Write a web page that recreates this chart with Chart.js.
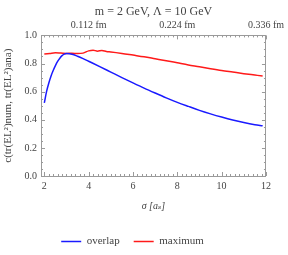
<!DOCTYPE html>
<html>
<head>
<meta charset="utf-8">
<script src="https://cdn.jsdelivr.net/npm/chart.js@4/dist/chart.umd.min.js"></script>
<style>
  html, body { margin: 0; padding: 0; background: #fff; }
</style>
</head>
<body>
<canvas id="grafico" width="288" height="255"></canvas>
<script>
// sigma em unidades de a_s
const sigmaOverlap = [2.0, 2.1, 2.2, 2.3, 2.4, 2.5, 2.6, 2.7, 2.8, 2.9, 3.0, 3.25, 3.5, 3.75, 4.0, 4.5, 5.0, 5.5, 6.0, 6.5, 7.0, 7.5, 8.0, 8.5, 9.0, 9.5, 10.0, 10.5, 11.0, 11.5, 11.85];
const overlap = [0.52, 0.60, 0.66, 0.71, 0.75, 0.785, 0.815, 0.838, 0.856, 0.867, 0.871, 0.866, 0.852, 0.835, 0.816, 0.778, 0.739, 0.70, 0.662, 0.625, 0.59, 0.556, 0.524, 0.495, 0.467, 0.442, 0.419, 0.398, 0.38, 0.365, 0.357];

const sigmaMaximum = [2.0, 2.25, 2.5, 2.75, 3.0, 3.25, 3.5, 3.75, 4.0, 4.2, 4.4, 4.6, 4.8, 5.0, 5.5, 6.0, 6.5, 7.0, 7.5, 8.0, 8.5, 9.0, 9.5, 10.0, 10.5, 11.0, 11.5, 11.85];
const maximum = [0.868, 0.872, 0.876, 0.874, 0.872, 0.873, 0.871, 0.874, 0.89, 0.895, 0.888, 0.893, 0.885, 0.882, 0.872, 0.86, 0.848, 0.834, 0.82, 0.805, 0.79, 0.777, 0.763, 0.75, 0.739, 0.728, 0.718, 0.711];

const xTicks = [2, 4, 6, 8, 10, 12];
const topTicks = [4, 8, 12];
const topTickLabels = ["0.112 fm", "0.224 fm", "0.336 fm"];
const yTicks = [0, 0.2, 0.4, 0.6, 0.8, 1.0];

const fonte = "'Liberation Serif', 'DejaVu Serif', serif";
const corTexto = "#444";
const corMoldura = "#9a9a9a";

function pontos(xs, ys) {
  return xs.map((x, i) => ({ x: x, y: ys[i] }));
}

// marcas de escala para dentro, nos quatro lados
const ticksInternos = {
  id: "ticksInternos",
  afterDatasetsDraw(chart) {
    const { ctx, chartArea: a, scales } = chart;
    ctx.save();
    ctx.strokeStyle = corMoldura;
    ctx.lineWidth = 1;
    ctx.beginPath();
    for (let i = 10; i <= 60; i++) {
      const px = Math.round(scales.x.getPixelForValue(i / 5)) + 0.5;
      const baixo = i % 10 === 0 ? 4 : 2;
      const cima = i % 20 === 0 ? 4 : 2;
      ctx.moveTo(px, a.bottom);
      ctx.lineTo(px, a.bottom - baixo);
      ctx.moveTo(px, a.top);
      ctx.lineTo(px, a.top + cima);
    }
    for (let j = 0; j <= 20; j++) {
      const py = Math.round(scales.y.getPixelForValue(j / 20)) + 0.5;
      const len = j % 4 === 0 ? 4 : 2;
      ctx.moveTo(a.left, py);
      ctx.lineTo(a.left + len, py);
      ctx.moveTo(a.right, py);
      ctx.lineTo(a.right - len, py);
    }
    ctx.stroke();
    ctx.restore();
  },
  afterLayout(chart) {
    // titulo centrado sobre a area do grafico
    const t = chart.titleBlock;
    if (t) {
      t.left = chart.chartArea.left;
      t.right = chart.chartArea.right;
    }
    // legenda um pouco deslocada
    if (chart.legend) {
      chart.legend.left -= 6;
      chart.legend.top += 2;
      chart.legend.bottom += 2;
    }
  }
};

const ctx = document.getElementById("grafico").getContext("2d");

new Chart(ctx, {
  type: "line",
  data: {
    datasets: [
      {
        label: "overlap",
        data: pontos(sigmaOverlap, overlap),
        borderColor: "#1a1aff",
        backgroundColor: "#1a1aff",
        borderWidth: 1.5,
        pointRadius: 0,
        cubicInterpolationMode: "monotone"
      },
      {
        label: "maximum",
        data: pontos(sigmaMaximum, maximum),
        borderColor: "#ff1a1a",
        backgroundColor: "#ff1a1a",
        borderWidth: 1.5,
        pointRadius: 0,
        cubicInterpolationMode: "monotone"
      }
    ]
  },
  options: {
    responsive: false,
    animation: false,
    layout: { padding: { left: 0, right: 17, top: 0, bottom: 0 } },
    plugins: {
      title: {
        display: true,
        fullSize: false,
        text: "m = 2 GeV, Λ = 10 GeV",
        color: corTexto,
        font: { family: fonte, size: 12, weight: "normal" },
        padding: { top: 5, bottom: 1 }
      },
      legend: {
        position: "bottom",
        labels: {
          usePointStyle: true,
          pointStyle: "line",
          pointStyleWidth: 20,
          color: corTexto,
          font: { family: fonte, size: 11 },
          padding: 14
        }
      },
      tooltip: { enabled: false }
    },
    scales: {
      x: {
        type: "linear",
        position: "bottom",
        min: 1.85,
        max: 12,
        afterBuildTicks: (scale) => { scale.ticks = xTicks.map(v => ({ value: v })); },
        afterFit: (scale) => { scale.height = 44; },
        grid: { display: false, drawTicks: false },
        border: { display: true, color: corMoldura, width: 1 },
        ticks: {
          padding: 4,
          maxRotation: 0,
          color: corTexto,
          font: { family: fonte, size: 10 }
        },
        title: {
          display: true,
          text: "σ [aₛ]",
          color: corTexto,
          font: { family: fonte, size: 10, style: "italic" },
          padding: { top: 0, bottom: 8 }
        }
      },
      x2: {
        type: "linear",
        position: "top",
        min: 1.85,
        max: 12,
        afterBuildTicks: (scale) => { scale.ticks = topTicks.map(v => ({ value: v })); },
        afterFit: (scale) => { scale.height = 15; },
        grid: { display: false, drawTicks: false },
        border: { display: true, color: corMoldura, width: 1 },
        ticks: {
          padding: 4,
          maxRotation: 0,
          color: corTexto,
          font: { family: fonte, size: 10 },
          callback: (value) => topTickLabels[topTicks.indexOf(value)]
        }
      },
      y: {
        min: 0,
        max: 1,
        afterBuildTicks: (scale) => { scale.ticks = yTicks.map(v => ({ value: v })); },
        afterFit: (scale) => { scale.width = 41; },
        grid: { display: false, drawTicks: false },
        border: { display: true, color: corMoldura, width: 1 },
        ticks: {
          padding: 4,
          color: corTexto,
          font: { family: fonte, size: 10 },
          callback: (value) => Number(value).toFixed(1)
        },
        title: {
          display: true,
          text: "c(tr(EL²)num, tr(EL²)ana)",
          color: corTexto,
          font: { family: fonte, size: 11 },
          padding: { top: 2, bottom: 0 }
        }
      },
      y2: {
        position: "right",
        min: 0,
        max: 1,
        afterFit: (scale) => { scale.width = 0; },
        grid: { display: false, drawTicks: false },
        border: { display: true, color: corMoldura, width: 1 },
        ticks: { display: false }
      }
    }
  },
  plugins: [ticksInternos]
});
</script>
</body>
</html>
